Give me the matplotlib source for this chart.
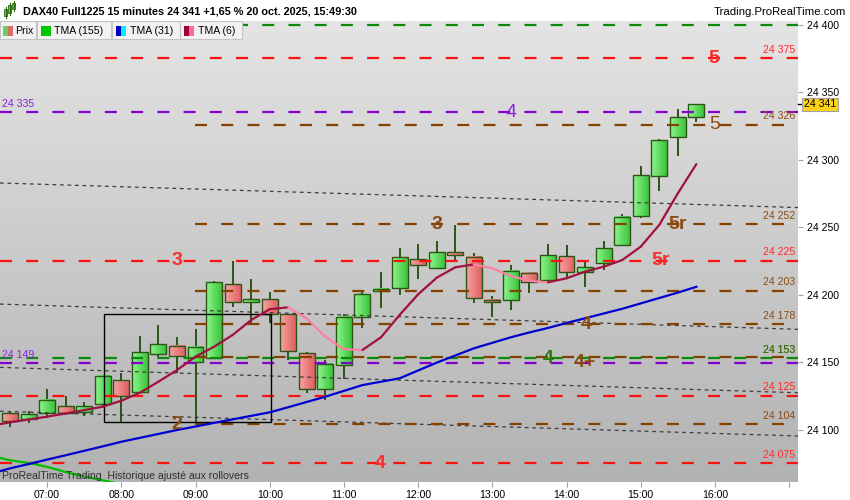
import numpy as np
import matplotlib
matplotlib.use('Agg')
import matplotlib.pyplot as plt
import matplotlib.transforms as mtransforms
from matplotlib.colors import LinearSegmentedColormap
from matplotlib.patches import Rectangle

plt.rcParams['font.family'] = ['Liberation Sans', 'DejaVu Sans']

# 15 minute candles, 06:30 -> 15:45
opens = [24112.5, 24107.9, 24112.0, 24117.3, 24113.3, 24118.7, 24136.5, 24128.1, 24155.8, 24162.2,
         24149.8, 24152.8, 24207.6, 24194.3, 24196.5, 24185.6, 24156.5, 24129.9, 24147.6, 24183.2,
         24202.4, 24205.1, 24226.1, 24219.9, 24231.3, 24228.1, 24196.0, 24196.0, 24215.8, 24210.8,
         24228.4, 24217.0, 24223.2, 24236.5, 24258.4, 24288.1, 24317.0, 24331.8]
highs = [24113.0, 24113.8, 24130.0, 24124.9, 24120.7, 24140.0, 24141.7, 24169.3, 24177.5, 24168.8,
         24174.5, 24210.0, 24224.9, 24211.6, 24202.0, 24186.0, 24157.7, 24151.6, 24185.6, 24202.1,
         24217.0, 24234.3, 24237.3, 24239.5, 24251.3, 24230.6, 24198.9, 24222.0, 24217.0, 24237.5,
         24236.7, 24225.6, 24239.7, 24259.7, 24295.3, 24315.1, 24337.5, 24341.0]
lows = [24101.7, 24104.7, 24108.4, 24112.0, 24110.3, 24117.5, 24105.4, 24127.5, 24154.0, 24141.7,
        24103.4, 24152.5, 24191.0, 24178.2, 24178.7, 24151.6, 24127.3, 24121.9, 24137.5, 24175.5,
        24190.3, 24199.7, 24211.6, 24219.5, 24225.1, 24194.0, 24183.2, 24188.6, 24201.4, 24209.1,
        24212.8, 24205.9, 24218.2, 24236.0, 24257.0, 24277.0, 24302.9, 24327.6]
closes = [24106.6, 24111.3, 24121.7, 24112.5, 24117.3, 24139.5, 24124.9, 24157.3, 24163.2, 24154.3,
          24161.4, 24209.0, 24194.3, 24196.5, 24185.6, 24158.4, 24129.9, 24148.6, 24183.2, 24200.2,
          24203.4, 24227.6, 24221.7, 24231.3, 24229.1, 24197.3, 24194.5, 24217.5, 24209.1, 24229.1,
          24217.0, 24220.2, 24234.3, 24257.3, 24288.4, 24314.4, 24331.8, 24341.0]

# moving averages, starting one bar before the first visible candle
tma6 = [24103.0, 24105.4, 24107.5, 24109.6, 24111.9, 24114.5, 24117.0, 24121.4, 24127.3, 24135.5,
        24144.1, 24154.0, 24161.4, 24170.1, 24181.2, 24189.2, 24190.6, 24182.4, 24168.8, 24159.5,
        24159.0, 24168.4, 24184.9, 24200.2, 24212.5, 24220.2, 24222.4, 24219.5, 24213.8, 24210.2,
        24209.1, 24212.1, 24217.0, 24220.7, 24225.6, 24235.5, 24251.6, 24275.0, 24296.7]
tma31 = [24067.5, 24071.3, 24074.5, 24077.8, 24081.0, 24084.3, 24087.6, 24091.0, 24093.9, 24096.8,
         24099.7, 24102.3, 24105.0, 24107.6, 24110.2, 24112.8, 24116.6, 24120.5, 24124.4, 24128.7,
         24133.0, 24135.5, 24138.0, 24143.8, 24149.6, 24154.9, 24160.2, 24164.3, 24168.4, 24172.0,
         24175.3, 24179.0, 24182.5, 24186.0, 24189.5, 24193.5, 24197.5, 24201.5, 24205.8]
tma155 = [24080.5, 24077.3, 24075.3, 24072.4, 24068.6, 24065.3, 24062.5, 24059.5, 24056.5]

# horizontal levels
level_prices = [24400, 24375, 24335, 24326, 24252, 24225, 24203, 24178, 24153.9, 24153, 24149, 24125, 24104, 24075]
level_kinds = ['green', 'red', 'purple', 'brown', 'brown', 'red', 'brown', 'brown', 'brown', 'green', 'purple', 'red', 'brown', 'red']
level_tags = ['', 'right', 'left', 'right', 'right', 'right', 'right', 'right', 'right', 'right', 'left', 'right', 'right', 'right']

# big level marks: text, bar index, price, kind, bold
marks = [('5', 37.95, 24375, 'red', True), ('4', 27.0, 24335, 'purple', False),
         ('5', 38.0, 24326, 'brown', False), ('3', 23.0, 24252, 'brown', True),
         ('5r', 36.0, 24252, 'brown', True), ('5r', 35.05, 24225, 'red', True),
         ('3', 9.0, 24225, 'red', True), ('4', 31.05, 24178, 'brown', True),
         ('4', 29.0, 24153, 'green', True), ('4+', 31.0, 24150, 'brown', True),
         ('2', 9.0, 24104, 'brown', True), ('4', 19.95, 24075, 'red', True)]

# parallel dotted channel lines (price at left edge, price at right edge)
channel_left = [24282.7, 24193.0, 24146.1, 24113.6]
channel_right = [24264.5, 24174.3, 24127.3, 24095.3]

# box drawn on the chart
box_x = [5.05, 14.05]
box_y = [24105.4, 24185.4]

tick_pos = [2, 6, 10, 14, 18, 22, 26, 30, 34, 38, 42]
tick_labels = ['07:00', '08:00', '09:00', '10:00', '11:00', '12:00', '13:00', '14:00', '15:00', '16:00', '']

COL = {'red': '#ff1010', 'brown': '#844200', 'purple': '#8400cc', 'green': '#0a8a0a'}
TXT = {'red': '#ff2a2a', 'brown': '#8a4a10', 'purple': '#8a22dd', 'green': '#2a7a10'}

W, H = 850, 500
XMIN, XMAX = -0.54, 42.48
YMIN, YMAX = 24061.2, 24402.7

fig = plt.figure(figsize=(8.5, 5), dpi=100)
fig.patch.set_facecolor('white')
ax = fig.add_axes([0, 18 / H, 798 / W, 461 / H])

# background gradient
bg = LinearSegmentedColormap.from_list('bg', ['#b2b2b2', '#e4e4e4'])
ax.imshow(np.linspace(0, 1, 256)[:, None], extent=[XMIN, XMAX, YMIN, YMAX], origin='lower',
          aspect='auto', cmap=bg, zorder=0)

# candles
green_cm = LinearSegmentedColormap.from_list('g', ['#8ef58e', '#3cc43c'])
red_cm = LinearSegmentedColormap.from_list('r', ['#f8a2a2', '#de6060'])
edge = '#2c5614'
bw = 0.86
hgrad = np.linspace(0, 1, 32)[None, :]
for i, (o, h, l, c) in enumerate(zip(opens, highs, lows, closes)):
    ax.vlines(i, l, h, color=edge, lw=1.4, zorder=2)
    lo, hi = min(o, c), max(o, c)
    if hi - lo < 1.5:
        hi = lo + 1.5
    cm = green_cm if c >= o else red_cm
    ax.imshow(hgrad, extent=[i - bw / 2, i + bw / 2, lo, hi], aspect='auto', cmap=cm,
              interpolation='bilinear', zorder=3)
    ax.add_patch(Rectangle((i - bw / 2, lo), bw, hi - lo, fill=False, ec=edge, lw=1.0, zorder=3.1))

# channel lines
for yl, yr in zip(channel_left, channel_right):
    ax.plot([XMIN, XMAX], [yl, yr], color='#3c3c3c', lw=0.9, ls=(0, (3, 3)), zorder=4)

# levels
for p, kind, tag in zip(level_prices, level_kinds, level_tags):
    x0 = 9.98 if kind == 'brown' else XMIN
    ax.plot([x0, XMAX], [p, p], color=COL[kind], lw=1.6, ls=(0, (5.4, 6.4)), zorder=4.5)
    lab = f'{int(p):,}'.replace(',', ' ')
    if tag == 'right':
        ax.annotate(lab, (42.33, int(p)), xytext=(0, 2.5), textcoords='offset points', ha='right',
                    va='bottom', fontsize=7.6, color=TXT[kind], zorder=6)
    elif tag == 'left':
        ax.annotate(lab, (XMIN, int(p)), xytext=(1.5, 2.5), textcoords='offset points', ha='left',
                    va='bottom', fontsize=7.6, color=TXT[kind], zorder=6)

ax.add_patch(Rectangle((box_x[0], box_y[0]), box_x[1] - box_x[0], box_y[1] - box_y[0],
                       fill=False, ec='black', lw=1.0, zorder=4.6))

# moving averages
xs = np.arange(-1, len(tma6) - 1)
ax.plot(np.arange(-1, len(tma155) - 1), tma155, color='#00c000', lw=1.6, zorder=5)
ax.plot(xs, tma31, color='#0000d0', lw=1.6, zorder=5)
for k in range(1, len(tma6)):
    col = '#a01040' if tma6[k] >= tma6[k - 1] else '#ff80a4'
    ax.plot(xs[k - 1:k + 1], tma6[k - 1:k + 1], color=col, lw=1.6, zorder=5.2,
            solid_capstyle='round')

for txt, xi, p, kind, bold in marks:
    ax.text(xi, p, txt, ha='center', va='center', fontsize=14, color=TXT[kind],
            fontweight='bold' if bold else 'normal', zorder=7)

ax.text(0.003, 6 / 461, 'ProRealTime Trading  Historique ajusté aux rollovers', transform=ax.transAxes,
        fontsize=7.6, color='#303030', va='center', ha='left', zorder=7)

ax.set_xlim(XMIN, XMAX)
ax.set_ylim(YMIN, YMAX)
for s in ax.spines.values():
    s.set_visible(False)
ax.yaxis.tick_right()
ax.set_yticks(range(24100, 24401, 50))
ax.set_yticklabels([f'{v:,}'.replace(',', ' ') for v in range(24100, 24401, 50)])
ax.set_xticks(tick_pos)
ax.set_xticklabels(tick_labels)
ax.tick_params(axis='both', length=3.5, color='#a0a0a0', labelsize=7.6, labelcolor='black')
ax.tick_params(axis='y', pad=3)
ax.tick_params(axis='x', pad=2.5)

# current price tag
last = closes[-1]
bt = mtransforms.blended_transform_factory(ax.transAxes, ax.transData)
ax.plot([1.0, 1.007], [last, last], color='black', lw=1, transform=bt, clip_on=False, zorder=8)
ax.text(1.0075, last, f'{int(last):,}'.replace(',', ' '), transform=bt, fontsize=7.6, va='center',
        ha='left', clip_on=False, zorder=8,
        bbox=dict(boxstyle='square,pad=0.15', fc='#ffd21a', ec='#a0a0a0', lw=0.8))

# header and legend row
hdr = fig.add_axes([0, 0, 1, 1], zorder=10)
hdr.set_xlim(0, W)
hdr.set_ylim(H, 0)
hdr.axis('off')
hdr.patch.set_alpha(0)
for cx, top, bot in [(6, 9, 16), (10, 5, 13), (14, 3, 9)]:
    hdr.plot([cx, cx], [top - 2, bot + 2], color='#2c6a14', lw=0.8)
    hdr.add_patch(Rectangle((cx - 1.5, top), 3, bot - top, fc='#5cc85c', ec='#2c6a14', lw=0.6))
hdr.text(23, 12, 'DAX40 Full1225 15 minutes 24 341 +1,65 % 20 oct. 2025, 15:49:30', fontsize=7.8,
         fontweight='bold', va='center', ha='left')
hdr.text(846, 12, 'Trading.ProRealTime.com', fontsize=8.2, va='center', ha='right')

legend_boxes = [(0, 36.5, 'Prix', ['#5cd65c', '#e46a6a'], 15.5),
                (37.5, 74, 'TMA (155)', ['#00c800', '#00c800'], 54.5),
                (112.5, 67.5, 'TMA (31)', ['#0000c8', '#00f0ff'], 130),
                (180.5, 61.5, 'TMA (6)', ['#a00040', '#ff6a98'], 198)]
for bx, bwid, name, cols, tx in legend_boxes:
    hdr.add_patch(Rectangle((bx, 20.7), bwid, 18.6, fc='#f2f2f2', ec='#c4c4c4', lw=0.8))
    hdr.add_patch(Rectangle((bx + 3.5, 25.5), 5, 10, fc=cols[0], ec='none'))
    hdr.add_patch(Rectangle((bx + 8.5, 25.5), 5, 10, fc=cols[1], ec='none'))
    hdr.text(tx, 30.5, name, fontsize=7.6, va='center', ha='left')

fig.savefig('out.png', dpi=100, facecolor='white')
